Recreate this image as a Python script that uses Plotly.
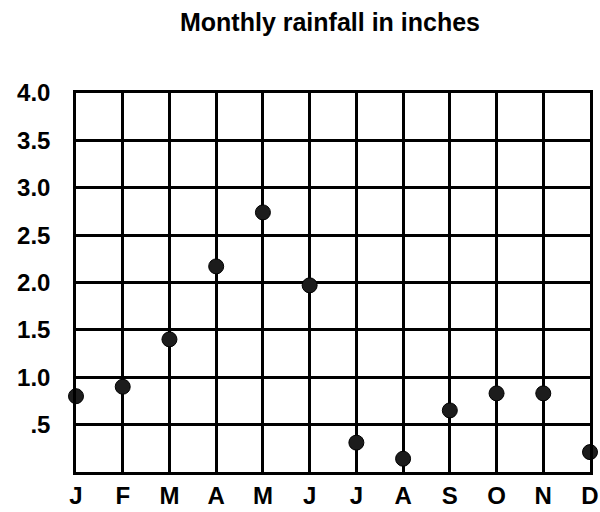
import plotly.graph_objects as go

# Monthly rainfall (inches)
months = ["J", "F", "M", "A", "M", "J", "J", "A", "S", "O", "N", "D"]
rainfall = [0.80, 0.90, 1.40, 2.17, 2.74, 1.97, 0.31, 0.14, 0.65, 0.83, 0.83, 0.21]

y_ticks = [0.5, 1.0, 1.5, 2.0, 2.5, 3.0, 3.5, 4.0]
y_ticklabels = [".5", "1.0", "1.5", "2.0", "2.5", "3.0", "3.5", "4.0"]

positions = list(range(len(months)))

fig = go.Figure()
fig.add_trace(go.Scatter(
    x=positions,
    y=rainfall,
    mode="markers",
    marker=dict(size=15, color="#1c1c1c", line=dict(width=1, color="#000000")),
    cliponaxis=False,
    showlegend=False,
))

font_family = "Liberation Sans, Arial, sans-serif"

fig.update_layout(
    width=600,
    height=512,
    margin=dict(l=76, r=10, t=93, b=40, autoexpand=False),
    paper_bgcolor="white",
    plot_bgcolor="white",
    title=dict(
        text="Monthly rainfall in inches",
        x=330 / 600,
        xanchor="center",
        y=1 - 22 / 512,
        yanchor="middle",
        font=dict(family=font_family, size=25, color="black", weight=600),
    ),
    xaxis=dict(
        range=[0, 11],
        tickmode="array",
        tickvals=positions,
        ticktext=months,
        showgrid=True,
        gridcolor="black",
        gridwidth=2.5,
        showline=True,
        linecolor="black",
        linewidth=2.5,
        mirror=True,
        zeroline=False,
        ticks="",
        automargin=False,
        ticklabelstandoff=0,
        tickfont=dict(family=font_family, size=24, color="black", weight="bold"),
        fixedrange=True,
    ),
    yaxis=dict(
        range=[0, 4.0],
        tickmode="array",
        tickvals=y_ticks,
        ticktext=y_ticklabels,
        showgrid=True,
        gridcolor="black",
        gridwidth=2.5,
        showline=True,
        linecolor="black",
        linewidth=2.5,
        mirror=True,
        zeroline=False,
        ticks="",
        automargin=False,
        ticklabelstandoff=18,
        tickfont=dict(family=font_family, size=24, color="black", weight="bold"),
        fixedrange=True,
    ),
)

fig.write_html("out.html")
